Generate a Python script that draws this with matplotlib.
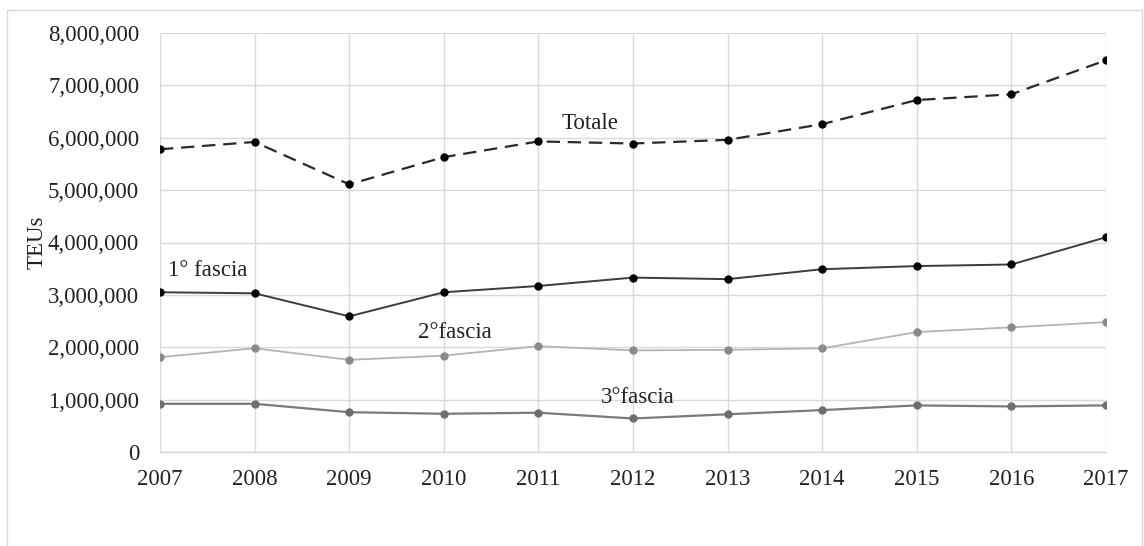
import matplotlib
matplotlib.use("Agg")
import matplotlib.pyplot as plt
from matplotlib.patches import Rectangle
from matplotlib.ticker import FuncFormatter

years = [2007, 2008, 2009, 2010, 2011, 2012, 2013, 2014, 2015, 2016, 2017]
totale = [5780000, 5920000, 5110000, 5630000, 5930000, 5890000, 5960000, 6260000, 6720000, 6830000, 7480000]
fascia1 = [3050000, 3030000, 2590000, 3050000, 3170000, 3330000, 3300000, 3490000, 3550000, 3580000, 4100000]
fascia2 = [1810000, 1980000, 1760000, 1840000, 2020000, 1940000, 1950000, 1980000, 2290000, 2380000, 2480000]
fascia3 = [920000, 920000, 760000, 730000, 750000, 640000, 720000, 800000, 890000, 870000, 890000]

plt.rcParams['font.family'] = ['Liberation Serif', 'DejaVu Serif']

fig = plt.figure(figsize=(11.44, 5.46), dpi=100)
ax = fig.add_axes([160/1144, 1-452/546, (1106-160)/1144, (452-33)/546])

fig.patches.append(Rectangle((7/1144, -0.01), (1142-7)/1144, 1-10/546+0.01,
                             transform=fig.transFigure, fill=False,
                             edgecolor='#d9d9d9', linewidth=1.0))

ax.plot(years, totale, color='#2a2a2a', linestyle=(0, (6, 3.5)), linewidth=1.6,
        marker='o', markersize=5, markerfacecolor='black', markeredgecolor='black', zorder=5)
ax.plot(years, fascia1, color='#3c3c3c', linewidth=1.4,
        marker='o', markersize=5, markerfacecolor='black', markeredgecolor='black', zorder=5)
ax.plot(years, fascia2, color='#b4b4b4', linewidth=1.3,
        marker='o', markersize=5, markerfacecolor='#8a8a8a', markeredgecolor='#8a8a8a', zorder=4)
ax.plot(years, fascia3, color='#7a7a7a', linewidth=1.6,
        marker='o', markersize=5, markerfacecolor='#6e6e6e', markeredgecolor='#6e6e6e', zorder=4)

FS = 16.5
ax.set_xlim(2007, 2017)
ax.set_ylim(0, 8000000)
ax.set_xticks(years)
ax.set_yticks(range(0, 8000001, 1000000))
ax.yaxis.set_major_formatter(FuncFormatter(lambda v, p: f"{int(v):,}"))
ax.grid(True, color='#d9d9d9', linewidth=1.0)
ax.set_axisbelow(True)
for s in ['top', 'right', 'left']:
    ax.spines[s].set_visible(False)
ax.spines['bottom'].set_color('#d0d0d0')
ax.tick_params(axis='both', length=0, labelsize=FS, colors='#222222')
ax.tick_params(axis='x', pad=12)
ax.tick_params(axis='y', pad=15)
ax.set_ylabel('TEUs', fontsize=FS, color='#222222')
ax.yaxis.set_label_coords(-112/946, 0.5)

ax.text(2011.55, 6270000, 'Totale', fontsize=FS, ha='center', va='center', color='#222222')
ax.text(2007.5, 3470000, '1° fascia', fontsize=FS, ha='center', va='center', color='#222222')
ax.text(2010.12, 2280000, '2°fascia', fontsize=FS, ha='center', va='center', color='#222222')
ax.text(2012.05, 1040000, '3°fascia', fontsize=FS, ha='center', va='center', color='#222222')

fig.savefig('out.png', dpi=100)
